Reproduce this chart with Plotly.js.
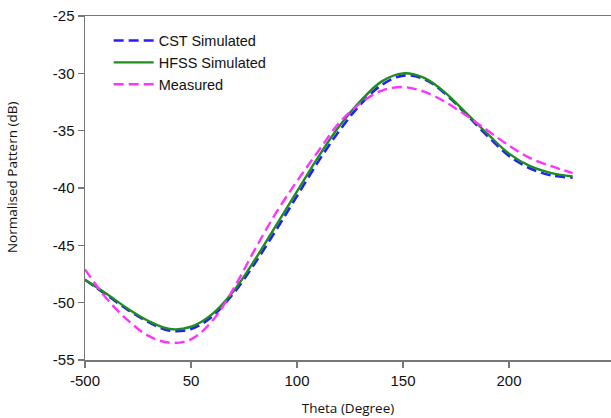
<!DOCTYPE html>
<html>
<head>
<meta charset="utf-8">
<script src="https://cdn.plot.ly/plotly-3.0.1.min.js"></script>
<style>html,body{margin:0;padding:0;background:#fff;}#chart{width:611px;height:418px;}</style>
</head>
<body>
<div id="chart"></div>
<script>
const theta = [0,10,20,30,40,50,60,70,80,90,100,110,120,130,140,150,160,170,180,190,200,210,220,230];
const cstSimulated = [-48.0,-49.3,-50.6,-51.7,-52.45,-52.3,-51.2,-49.2,-46.6,-43.7,-40.7,-37.7,-35.0,-32.7,-31.0,-30.2,-30.5,-31.8,-33.6,-35.5,-37.2,-38.3,-38.9,-39.1];
const hfssSimulated = [-48.0,-49.2,-50.5,-51.6,-52.3,-52.1,-51.0,-49.0,-46.3,-43.3,-40.3,-37.3,-34.6,-32.4,-30.7,-30.0,-30.4,-31.7,-33.5,-35.3,-37.0,-38.1,-38.7,-39.0];
const measured = [-47.1,-49.6,-51.5,-52.9,-53.5,-53.2,-51.6,-48.8,-45.4,-42.2,-39.4,-36.8,-34.3,-32.6,-31.5,-31.2,-31.6,-32.5,-33.7,-35.0,-36.3,-37.4,-38.1,-38.7];
const xTickVals = [0,50,100,150,200];
const xTickText = ["-500","50","100","150","200"];
const yTickVals = [-55,-50,-45,-40,-35,-30,-25];
const yTickText = ["-55","-50","-45","-40","-35","-30","-25"];

const traces = [
  {x: theta, y: cstSimulated, name: 'CST Simulated', mode: 'lines',
   line: {color: '#1f1fff', width: 2.6, dash: '10px,5px', shape: 'spline'}},
  {x: theta, y: hfssSimulated, name: 'HFSS Simulated', mode: 'lines',
   line: {color: '#1e8c1e', width: 2.4, shape: 'spline'}},
  {x: theta, y: measured, name: 'Measured', mode: 'lines',
   line: {color: '#ff33ff', width: 2.4, dash: '10px,5px', shape: 'spline'}}
];

const layout = {
  width: 611, height: 418,
  margin: {l: 85, r: 0, t: 16, b: 58},
  paper_bgcolor: '#fff', plot_bgcolor: '#fff',
  font: {family: 'Liberation Sans, Arial, sans-serif', size: 15, color: '#111'},
  showlegend: true,
  legend: {x: 0.045, y: 0.975, xanchor: 'left', yanchor: 'top', bgcolor: 'rgba(0,0,0,0)',
           font: {size: 14.5, color: '#111'}, tracegroupgap: 0, itemwidth: 40},
  xaxis: {range: [0, 248.1], tickvals: xTickVals, ticktext: xTickText,
          showgrid: false, zeroline: false, showline: true, linecolor: '#777', linewidth: 1.5,
          mirror: true, ticks: 'outside', ticklen: 6, tickcolor: '#777', tickwidth: 1.5,
          tickfont: {size: 15},
          title: {text: 'Theta (Degree)', font: {size: 13.5, family: 'Open Sans, sans-serif'}, standoff: 16}},
  yaxis: {range: [-55, -25], tickvals: yTickVals, ticktext: yTickText,
          showgrid: false, zeroline: false, showline: true, linecolor: '#777', linewidth: 1.5,
          ticks: 'outside', ticklen: 6, tickcolor: '#777', tickwidth: 1.5,
          tickfont: {size: 15}},
  annotations: [{text: 'Normalised Pattern (dB)', textangle: -90, showarrow: false,
                 xref: 'paper', yref: 'paper', x: -0.14, y: 0.53, xanchor: 'center', yanchor: 'middle',
                 font: {size: 13.5, family: 'Open Sans, sans-serif', color: '#111'}}]
};

Plotly.newPlot('chart', traces, layout, {displayModeBar: false, staticPlot: true});
</script>
</body>
</html>
